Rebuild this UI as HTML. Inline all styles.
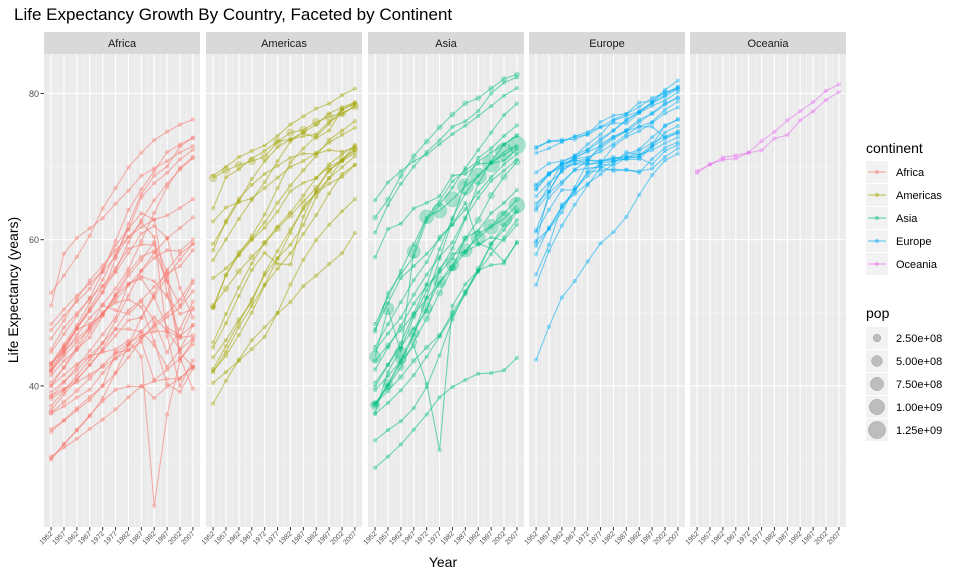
<!DOCTYPE html>
<html><head><meta charset="utf-8">
<style>
html,body{margin:0;padding:0;background:#fff;}
svg{display:block;font-family:"Liberation Sans",sans-serif;}
</style></head>
<body>
<svg id="chart" width="960" height="576" viewBox="0 0 960 576">
<text x="14" y="20" font-size="17" fill="#000">Life Expectancy Growth By Country, Faceted by Continent</text>
<text x="443" y="567" font-size="14" fill="#000" text-anchor="middle">Year</text>
<text transform="translate(18,290) rotate(-90)" font-size="14" fill="#000" text-anchor="middle">Life Expectancy (years)</text>
<g id="panels"></g>
<g id="legend"></g>
</svg>
<script>
const years = [1952,1957,1962,1967,1972,1977,1982,1987,1992,1997,2002,2007];
const yTicks = [40,60,80];
const continents = ["Africa","Americas","Asia","Europe","Oceania"];
const colors = ["#F8766D","#A3A500","#00BF7D","#00B0F6","#E76BF3"];
const popLegend = [2.5e8,5e8,7.5e8,1e9,1.25e9];
const popLegendLabels = ["2.50e+08","5.00e+08","7.50e+08","1.00e+09","1.25e+09"];

const africa = [
 {n:"Algeria",p:30,v:[43.08,45.69,48.30,51.41,54.52,58.01,61.37,65.80,67.74,69.15,70.99,72.30]},
 {n:"Angola",p:12,v:[30.02,31.99,34.00,35.99,37.93,39.48,39.94,39.91,40.65,40.96,41.00,42.73]},
 {n:"Botswana",p:2,v:[47.62,49.62,51.52,53.30,56.02,59.23,61.48,63.62,62.75,52.56,46.63,50.73]},
 {n:"Egypt",p:70,v:[41.89,44.44,46.99,49.29,51.14,53.32,56.01,59.80,63.67,67.22,69.81,71.34]},
 {n:"Libya",p:5,v:[42.72,45.29,47.81,50.23,52.77,57.44,62.16,66.23,68.76,70.00,72.74,73.95]},
 {n:"Mauritius",p:1,v:[50.99,58.09,60.25,61.56,62.94,64.93,66.71,68.74,69.75,70.74,71.95,72.80]},
 {n:"Morocco",p:28,v:[42.87,45.42,47.92,50.34,52.86,55.73,59.65,62.68,65.39,67.66,69.62,71.16]},
 {n:"Reunion",p:1,v:[52.72,55.09,57.67,60.54,64.27,67.06,69.89,71.91,73.62,74.77,75.74,76.44]},
 {n:"Rwanda",p:7,v:[40.00,41.50,43.00,44.10,44.60,45.00,46.22,44.02,23.60,36.09,43.41,46.24]},
 {n:"South Africa",p:40,v:[45.01,47.99,49.95,51.93,53.70,55.53,58.16,60.83,61.89,60.24,53.37,49.34]},
 {n:"Sierra Leone",p:5,v:[30.33,31.57,32.77,34.11,35.40,36.79,38.45,40.01,38.33,39.90,41.01,42.57]},
 {n:"Zimbabwe",p:10,v:[48.45,50.47,52.36,53.99,55.64,57.67,60.36,62.35,60.38,46.81,39.99,43.49]},
 {n:"Nigeria",p:100,v:[36.32,37.80,39.36,41.04,42.82,44.51,45.83,46.89,47.47,47.46,46.61,46.86]},
 {n:"Ethiopia",p:60,v:[34.08,35.25,36.67,38.05,40.06,44.51,44.92,46.68,48.09,49.40,50.73,52.95]},
 {n:"Kenya",p:25,v:[42.27,44.69,47.95,50.65,53.56,56.16,58.77,59.34,59.29,54.41,50.99,54.11]},
 {n:"Tunisia",p:9,v:[44.60,47.10,49.58,52.05,55.60,59.84,64.05,66.89,69.38,71.97,73.04,73.92]},
 {n:"Uganda",p:20,v:[39.98,42.57,45.34,48.05,51.02,50.35,49.85,51.51,48.83,44.58,47.81,51.54]},
 {n:"Senegal",p:9,v:[37.28,39.33,41.45,43.56,45.81,48.88,52.38,55.77,58.20,60.19,61.60,63.06]},
 {n:"Ghana",p:18,v:[43.15,44.78,46.45,48.07,49.88,51.76,53.74,55.73,57.50,58.56,58.45,60.02]},
 {n:"Swaziland",p:1,v:[41.41,43.42,44.99,46.63,49.55,52.54,55.56,57.68,58.47,54.29,43.87,39.61]},
 {n:"Gambia",p:1,v:[30.00,32.07,33.90,35.86,38.31,41.84,45.58,49.27,52.64,55.86,58.04,59.45]},
 {n:"Mali",p:9,v:[33.69,35.31,36.94,38.49,39.98,41.71,43.92,46.36,48.39,49.90,51.82,54.47]},
 {n:"Lesotho",p:2,v:[42.14,45.05,47.75,48.49,49.77,52.21,55.08,57.18,59.69,55.56,44.59,42.59]},
 {n:"Madagascar",p:13,v:[36.68,38.87,40.85,42.88,44.85,46.88,48.97,49.35,52.21,54.98,57.29,59.44]},
 {n:"Cote d'Ivoire",p:13,v:[40.48,42.47,44.93,47.35,49.80,52.37,53.98,54.66,52.04,47.99,46.83,48.33]},
 {n:"Sao Tome",p:1,v:[46.47,48.95,51.89,54.43,56.48,58.55,60.35,61.73,62.74,63.31,64.34,65.53]},
 {n:"Liberia",p:2,v:[38.22,39.48,40.50,41.54,42.61,43.76,44.85,46.03,40.80,42.22,43.75,45.68]},
 {n:"Cameroon",p:12,v:[38.52,40.43,42.64,44.80,47.05,49.36,53.98,54.99,54.31,52.20,49.86,50.43]},
 {n:"DR Congo",p:40,v:[39.14,40.65,42.12,44.06,45.91,47.78,47.78,47.41,45.55,42.59,44.97,46.46]},
 {n:"Zambia",p:8,v:[42.04,44.08,46.02,47.77,50.11,51.39,51.82,50.82,46.10,40.24,39.19,42.38]},
 {n:"Malawi",p:8,v:[36.26,37.21,38.41,39.49,41.77,43.77,45.64,47.46,49.42,47.50,45.01,48.30]},
 {n:"Sudan",p:25,v:[38.64,39.62,40.87,42.86,45.08,47.80,50.34,51.74,53.56,55.37,56.37,58.56]}
];
const americas = [
 {n:"Argentina",p:35,v:[62.49,64.40,65.14,65.63,67.07,68.48,69.94,70.77,71.87,73.28,74.34,75.32]},
 {n:"Bolivia",p:7,v:[40.41,41.89,43.43,45.03,46.71,50.02,53.86,57.25,59.96,62.05,63.88,65.55]},
 {n:"Brazil",p:150,v:[50.92,53.29,55.67,57.63,59.50,61.49,63.34,65.21,67.06,69.39,71.01,72.39]},
 {n:"Canada",p:28,v:[68.75,69.96,71.30,72.13,72.88,74.21,75.76,76.86,77.95,78.61,79.77,80.65]},
 {n:"Chile",p:13,v:[54.75,56.07,57.92,60.52,63.44,67.05,70.57,72.49,74.13,75.82,77.86,78.55]},
 {n:"Haiti",p:7,v:[37.58,40.70,43.59,46.24,48.04,49.92,51.46,53.64,55.09,56.67,58.14,60.92]},
 {n:"Mexico",p:80,v:[50.79,55.19,58.30,60.11,62.36,65.03,67.41,69.50,71.46,73.67,74.90,76.20]},
 {n:"United States",p:250,v:[68.44,69.49,70.21,70.76,71.34,73.38,74.65,75.02,76.09,76.81,77.31,78.24]},
 {n:"Peru",p:22,v:[43.90,46.26,49.10,51.45,55.45,58.45,61.41,64.13,66.46,68.39,69.91,71.42]},
 {n:"Honduras",p:5,v:[41.91,44.67,48.04,50.92,53.88,57.40,60.91,64.49,66.40,67.66,68.57,70.20]},
 {n:"Guatemala",p:9,v:[42.02,44.14,46.95,50.02,53.74,56.03,58.14,60.78,63.37,66.32,68.98,70.26]},
 {n:"Cuba",p:10,v:[59.42,62.33,65.25,68.29,70.72,72.65,73.72,74.17,74.41,76.15,77.16,78.27]},
 {n:"Nicaragua",p:4,v:[42.31,45.43,48.63,51.88,55.15,57.47,59.30,62.01,65.84,68.43,70.84,72.90]},
 {n:"Jamaica",p:2,v:[58.53,62.61,65.61,67.51,69.00,70.11,71.21,71.77,71.77,72.26,72.05,72.57]},
 {n:"Puerto Rico",p:3,v:[64.28,68.54,69.62,71.10,72.16,73.44,73.75,74.63,73.91,74.92,77.78,78.75]},
 {n:"Colombia",p:35,v:[50.64,55.12,57.86,59.96,61.62,63.84,66.65,67.77,68.42,70.31,71.68,72.89]},
 {n:"Dominican Rep",p:7,v:[45.93,49.83,53.46,56.75,59.63,61.79,63.73,66.05,68.46,69.96,70.85,72.24]},
 {n:"El Salvador",p:5,v:[45.26,48.57,52.31,55.86,58.21,56.70,56.60,63.15,66.80,69.54,70.73,71.88]},
 {n:"Costa Rica",p:3,v:[57.21,60.03,62.84,65.42,67.85,70.75,73.45,74.75,75.71,77.26,78.12,78.78]}
];
const asia = [
 {n:"Afghanistan",p:20,v:[28.80,30.33,32.00,34.02,36.09,38.44,39.85,40.82,41.67,41.76,42.13,43.83]},
 {n:"Cambodia",p:10,v:[39.42,41.37,43.42,45.42,40.32,31.22,50.96,53.91,55.80,56.53,56.75,59.72]},
 {n:"China",p:[556,637,666,755,862,943,1000,1084,1165,1230,1280,1318],v:[44.00,50.55,44.50,58.38,63.12,63.97,65.53,67.27,68.69,70.43,72.03,72.96]},
 {n:"India",p:[372,409,454,506,567,634,708,788,872,959,1034,1110],v:[37.37,40.25,43.61,47.19,50.65,54.21,56.60,58.55,60.22,61.77,62.88,64.70]},
 {n:"Japan",p:120,v:[63.03,65.50,68.73,71.43,73.42,75.38,77.11,78.67,79.36,80.69,82.00,82.60]},
 {n:"Israel",p:5,v:[65.39,67.84,69.39,70.75,71.63,73.06,74.45,75.60,76.93,78.27,79.70,80.75]},
 {n:"Yemen",p:12,v:[32.55,33.97,35.18,36.98,39.85,44.18,49.11,52.92,55.60,58.02,60.31,62.70]},
 {n:"Iraq",p:18,v:[45.32,48.44,51.46,54.46,56.95,60.41,62.04,65.04,59.46,58.81,57.05,59.55]},
 {n:"Vietnam",p:70,v:[40.41,42.89,45.36,47.84,50.25,55.76,58.82,62.82,67.66,70.67,73.02,74.25]},
 {n:"Indonesia",p:180,v:[37.47,39.92,42.52,46.00,49.20,52.70,56.16,60.14,62.68,66.04,68.59,70.65]},
 {n:"Bangladesh",p:110,v:[37.48,39.35,41.22,43.45,45.25,46.92,50.01,52.82,56.02,59.41,62.01,64.06]},
 {n:"Pakistan",p:120,v:[43.44,45.56,47.67,49.80,51.93,54.04,56.16,58.25,60.84,61.82,63.61,65.48]},
 {n:"Saudi Arabia",p:15,v:[39.88,42.87,45.91,49.90,53.89,58.69,63.01,66.30,68.77,70.53,71.63,72.78]},
 {n:"Korea Rep",p:42,v:[47.45,52.68,55.29,57.72,62.61,64.77,67.12,69.81,72.24,74.65,77.05,78.62]},
 {n:"Nepal",p:20,v:[36.16,37.69,39.39,41.47,43.97,46.75,49.59,52.54,55.73,59.43,61.34,63.79]},
 {n:"Hong Kong",p:5,v:[60.96,64.75,67.65,70.00,72.00,73.60,75.45,76.20,77.60,80.00,81.50,82.21]},
 {n:"Mongolia",p:2,v:[42.24,45.25,48.25,51.25,53.75,55.49,57.49,60.22,61.27,63.63,65.03,66.80]},
 {n:"Myanmar",p:40,v:[36.32,41.91,45.11,49.38,53.07,56.06,58.06,58.34,59.32,60.33,59.91,62.07]},
 {n:"Iran",p:55,v:[44.87,47.18,49.33,52.47,55.23,57.70,59.62,63.04,65.74,68.04,69.45,70.96]},
 {n:"Oman",p:2,v:[37.58,40.08,43.17,46.99,52.14,57.37,62.73,67.73,71.20,72.50,74.19,75.64]},
 {n:"Philippines",p:65,v:[47.75,51.33,54.76,56.39,58.07,60.06,62.08,64.15,66.46,68.56,70.30,71.69]},
 {n:"Sri Lanka",p:17,v:[57.59,61.46,62.19,64.27,65.04,65.95,68.76,69.01,70.38,70.46,70.82,72.40]},
 {n:"Malaysia",p:18,v:[48.46,52.10,55.74,59.37,63.01,65.26,68.00,69.50,70.69,71.94,73.04,74.24]}
];
const europe = [
 {n:"Albania",p:3,v:[55.23,59.28,64.82,66.22,67.69,68.93,70.42,72.00,71.58,72.95,75.65,76.42]},
 {n:"Turkey",p:55,v:[43.59,48.08,52.10,54.34,57.01,59.51,61.04,63.11,66.15,68.84,70.85,71.78]},
 {n:"Bosnia",p:4,v:[53.82,58.45,61.93,64.79,67.45,69.86,70.69,71.14,72.18,73.24,74.09,74.85]},
 {n:"Portugal",p:10,v:[59.82,61.51,64.39,66.60,69.26,70.41,72.77,74.06,74.86,75.97,77.29,78.10]},
 {n:"Norway",p:4,v:[72.67,73.44,73.47,74.08,74.34,75.37,75.97,75.89,77.32,78.32,79.05,80.20]},
 {n:"Iceland",p:1,v:[72.49,73.47,73.68,73.73,74.46,76.11,76.99,77.23,78.77,78.95,80.50,81.76]},
 {n:"Sweden",p:8,v:[71.86,72.49,73.37,74.16,74.72,75.44,76.42,77.19,78.16,79.39,80.04,80.88]},
 {n:"Romania",p:22,v:[61.05,64.10,66.80,66.80,69.21,69.46,69.66,69.53,69.36,69.72,71.32,72.48]},
 {n:"Bulgaria",p:8,v:[59.60,66.61,69.51,70.42,70.90,70.81,71.08,71.34,71.19,70.32,72.14,73.01]},
 {n:"Serbia",p:9,v:[57.99,61.69,64.53,66.91,68.70,70.30,70.16,71.22,71.66,72.23,73.21,74.00]},
 {n:"Hungary",p:10,v:[64.03,66.41,67.96,69.50,69.76,69.95,69.39,69.58,69.17,71.04,72.59,73.34]},
 {n:"Spain",p:38,v:[64.94,66.66,69.69,71.44,73.06,74.39,76.30,76.90,77.57,78.77,79.78,80.94]},
 {n:"Italy",p:57,v:[65.94,67.81,69.24,71.06,72.19,73.48,74.98,76.42,77.44,78.82,80.24,80.55]},
 {n:"Germany",p:80,v:[67.50,69.10,70.30,70.80,71.00,72.50,73.80,74.85,76.07,77.34,78.67,79.41]},
 {n:"United Kingdom",p:57,v:[69.18,70.42,70.76,71.36,72.01,72.76,74.04,75.01,76.42,77.22,78.47,79.43]},
 {n:"Poland",p:37,v:[61.31,65.77,67.64,69.61,70.85,70.67,71.32,70.98,70.99,72.75,74.67,75.56]},
 {n:"Ireland",p:4,v:[66.91,68.90,70.29,71.08,71.28,72.03,73.10,74.36,75.47,76.12,77.78,78.89]},
 {n:"France",p:57,v:[67.41,68.93,70.51,71.55,72.38,73.83,74.89,76.34,77.46,78.64,79.59,80.66]},
 {n:"Montenegro",p:1,v:[59.16,61.45,63.73,67.18,70.64,73.07,74.10,74.87,75.44,75.45,73.98,74.54]},
 {n:"Slovak Rep",p:5,v:[64.36,67.45,70.33,70.98,70.35,70.45,70.80,71.08,71.38,72.71,73.80,74.66]},
 {n:"Czech Rep",p:10,v:[66.87,69.03,69.90,70.38,70.29,70.71,70.96,71.58,72.40,74.01,75.51,76.49]}
];
const oceania = [
 {n:"Australia",p:18,v:[69.12,70.33,70.93,71.10,71.93,73.49,74.74,76.32,77.56,78.83,80.37,81.24]},
 {n:"New Zealand",p:4,v:[69.39,70.26,71.24,71.52,71.89,72.22,73.84,74.32,76.33,77.55,79.11,80.20]}
];
const groups = [africa, americas, asia, europe, oceania];

const NS = "http://www.w3.org/2000/svg";
function mk(tag, attrs, parent){ const e=document.createElementNS(NS,tag); for(const k in attrs) e.setAttribute(k,attrs[k]); parent.appendChild(e); return e; }

const panelX0 = [44,206,368,529,690], panelW = 156;
const plotTop = 54, plotBot = 527;
const yMin = 20.7, yMax = 85.4;
const xMin = 1949.25, xMax = 2009.75;
function yScale(v){ return plotBot - (v - yMin) / (yMax - yMin) * (plotBot - plotTop); }
function xScale(i, yr){ return panelX0[i] + (yr - xMin) / (xMax - xMin) * panelW; }
function rScale(pm){ return Math.max(1.9, Math.sqrt(pm*1e6 / 1.25e9) * 8.5); }

const root = document.getElementById("panels");
yTicks.forEach(t=>{
  const lab = mk("text",{x:39,y:yScale(t)+3.5,"font-size":9,fill:"#4d4d4d","text-anchor":"end"},root);
  
  
  lab.textContent = t;
  mk("line",{x1:40.5,x2:44,y1:yScale(t),y2:yScale(t),stroke:"#333","stroke-width":1},root);
});

continents.forEach((c,i)=>{
  const g = mk("g",{},root);
  
  
  const x0 = panelX0[i];
  mk("rect",{x:x0,y:plotTop,width:panelW,height:plotBot-plotTop,fill:"#ebebeb"},g);
  const strip = mk("rect",{x:x0,y:32,width:panelW,height:22,fill:"#d9d9d9"},g);
  
  
  const st = mk("text",{x:x0+panelW/2,y:47,"font-size":11,fill:"#1a1a1a","text-anchor":"middle"},g);
  
  
  st.textContent = c;
  [30,50,70].forEach(t=> mk("line",{x1:x0,x2:x0+panelW,y1:yScale(t),y2:yScale(t),stroke:"#f5f5f5","stroke-width":0.6},g));
  yTicks.forEach(t=> mk("line",{x1:x0,x2:x0+panelW,y1:yScale(t),y2:yScale(t),stroke:"#fff","stroke-width":1.1},g));
  years.forEach((yr,k)=>{
    if(k<years.length-1){ const m=xScale(i,yr+2.5); mk("line",{x1:m,x2:m,y1:plotTop,y2:plotBot,stroke:"#f5f5f5","stroke-width":0.6},g); }
    const x = xScale(i,yr);
    mk("line",{x1:x,x2:x,y1:plotTop,y2:plotBot,stroke:"#fff","stroke-width":1.1},g);
    mk("line",{x1:x,x2:x,y1:plotBot,y2:plotBot+3.5,stroke:"#333","stroke-width":1},g);
    const tl = mk("text",{transform:`translate(${x+2},${plotBot+7}) rotate(-45)`,"font-size":7,fill:"#4d4d4d","text-anchor":"end"},g);
    
    
    tl.textContent = yr;
  });
  groups[i].forEach(cty=>{
    const sg = mk("g",{},g);
    
    
    const pts = cty.v.map((v,k)=>[xScale(i,years[k]),yScale(v)]);
    const ln = mk("polyline",{points:pts.map(p=>p.join(",")).join(" "),fill:"none",stroke:colors[i],"stroke-opacity":0.55,"stroke-width":1.1},sg);
    
    
    pts.forEach((p,k)=>{
      const pm = Array.isArray(cty.p) ? cty.p[k] : cty.p;
      const ci = mk("circle",{cx:p[0],cy:p[1],r:rScale(pm),fill:colors[i],"fill-opacity":0.3,stroke:colors[i],"stroke-opacity":0.35,"stroke-width":0.5},sg);
      
      
    });
  });
});

const lg = document.getElementById("legend");
const lt = mk("text",{x:866,y:153,"font-size":14,fill:"#000"},lg);


lt.textContent = "continent";
continents.forEach((c,i)=>{
  const y = 161 + i*23;
  const eg = mk("g",{},lg);
  
  
  mk("rect",{x:866,y:y,width:22,height:22,fill:"#f2f2f2"},eg);
  mk("line",{x1:868,x2:886,y1:y+11,y2:y+11,stroke:colors[i],"stroke-opacity":0.55,"stroke-width":1.2},eg);
  mk("circle",{cx:877,cy:y+11,r:2.2,fill:colors[i],"fill-opacity":0.4},eg);
  const t = mk("text",{x:896,y:y+15,"font-size":11,fill:"#000"},eg);
  t.textContent = c;
});
const pt = mk("text",{x:866,y:318,"font-size":14,fill:"#000"},lg);


pt.textContent = "pop";
popLegend.forEach((p,i)=>{
  const y = 327 + i*23;
  const eg = mk("g",{},lg);
  
  
  mk("rect",{x:866,y:y,width:22,height:22,fill:"#f2f2f2"},eg);
  mk("circle",{cx:877,cy:y+11,r:rScale(p/1e6),fill:"#999","fill-opacity":0.6,stroke:"#999","stroke-width":0.5},eg);
  const t = mk("text",{x:896,y:y+15,"font-size":11,fill:"#000"},eg);
  t.textContent = popLegendLabels[i];
});
</script>
</body></html>
